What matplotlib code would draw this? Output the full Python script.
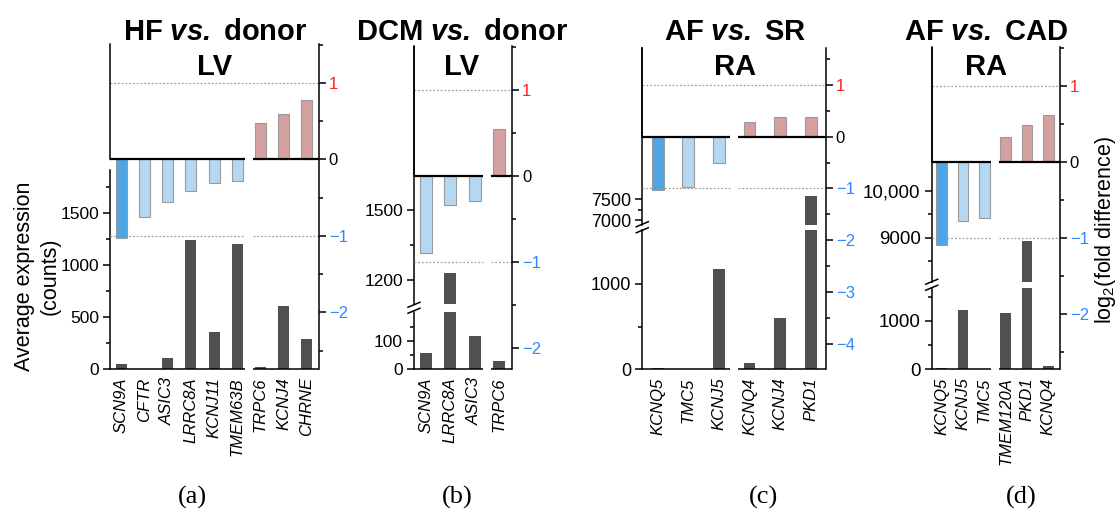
import matplotlib.pyplot as plt
from matplotlib.lines import Line2D
from matplotlib.ticker import FixedLocator, MultipleLocator

plt.rcParams['font.family'] = 'sans-serif'
plt.rcParams['font.sans-serif'] = ['Liberation Sans', 'DejaVu Sans']
plt.rcParams['mathtext.fontset'] = 'custom'
plt.rcParams['mathtext.rm'] = 'Liberation Sans'
plt.rcParams['mathtext.it'] = 'Liberation Sans:italic'
plt.rcParams['mathtext.bf'] = 'Liberation Sans:italic:bold'

# ---------------------------------------------------------------------------
# data
# ---------------------------------------------------------------------------
genes_a = ['SCN9A', 'CFTR', 'ASIC3', 'LRRC8A', 'KCNJ11', 'TMEM63B', 'TRPC6', 'KCNJ4', 'CHRNE']
fold_a = [-1.03, -0.76, -0.56, -0.41, -0.31, -0.28, 0.47, 0.59, 0.78]
counts_a = [48, 2, 106, 1240, 352, 1198, 22, 602, 285]

genes_b = ['SCN9A', 'LRRC8A', 'ASIC3', 'TRPC6']
fold_b = [-0.90, -0.34, -0.30, 0.54]
counts_b = [55, 1229, 117, 28]

genes_c = ['KCNQ5', 'TMC5', 'KCNJ5', 'KCNQ4', 'KCNJ4', 'PKD1']
fold_c = [-1.04, -0.98, -0.50, 0.28, 0.39, 0.39]
counts_c = [6, 1, 1173, 67, 604, 7580]

genes_d = ['KCNQ5', 'KCNJ5', 'TMC5', 'TMEM120A', 'PKD1', 'KCNQ4']
fold_d = [-1.09, -0.78, -0.74, 0.32, 0.48, 0.62]
counts_d = [20, 1221, 3, 1159, 8914, 54]

titles = [r'HF $\mathbf{vs.}$ donor', r'DCM $\mathbf{vs.}$ donor',
          r'AF $\mathbf{vs.}$ SR', r'AF $\mathbf{vs.}$ CAD']
tissues = ['LV', 'LV', 'RA', 'RA']
sublabels = ['(a)', '(b)', '(c)', '(d)']

fold_ticks_a = [-2, -1, 0, 1]
fold_ticks_b = [-2, -1, 0, 1]
fold_ticks_c = [-4, -3, -2, -1, 0, 1]
fold_ticks_d = [-2, -1, 0, 1]

# count axis ticks (major, minor) per segment, bottom segment first
count_ticks_a = [([0, 500, 1000, 1500], [250, 750, 1250, 1750])]
count_ticks_b = [([0, 100], [50, 150]), ([1200, 1500], [1350])]
count_ticks_c = [([0, 1000], [500]), ([7000, 7500], [7250])]
count_ticks_d = [([0, 1000], [500, 1500]), ([9000, 10000], [8500, 9500])]

# ---------------------------------------------------------------------------
# layout (pixels, y measured from the top)
# ---------------------------------------------------------------------------
W, H = 1120, 523
DARK = '#505050'
BLUE_D = '#4fa6e6'
BLUE_L = '#b5d8f2'
RED_L = '#d4a0a0'
EDGE = '#9a9a9a'
RED_T = '#ff2020'
BLUE_T = '#2f86ff'

lay_a = dict(L=110, R=319, top=44, bot=369, c0=121.3, s=23.2, bw=11, zero=159.3, unit=76.5,
             split=6, tx=215, sx=192, fs=12.5,
             segs=[(369, 169.5, (0, 369), (1500, 213))])
lay_b = dict(L=414, R=512.3, top=46.5, bot=369, c0=426, s=24.33, bw=12, zero=175.7, unit=86,
             split=3, tx=462, sx=457, fs=12.5,
             segs=[(369, 311.5, (0, 369), (100, 340.7)),
                   (304, 46.5, (1200, 280), (1500, 210))])
lay_c = dict(L=642.3, R=826, top=48.3, bot=369, c0=657.7, s=30.6, bw=11.7, zero=136.7, unit=51.7,
             split=3, tx=735, sx=764, fs=13,
             segs=[(369, 230, (0, 369), (1000, 284)),
                   (224.5, 48.3, (7000, 220.3), (7500, 199.3))])
lay_d = dict(L=931.7, R=1060, top=47.5, bot=369, c0=941.7, s=21.32, bw=10.7, zero=161.7, unit=76,
             split=3, tx=986, sx=1021, fs=13.5,
             segs=[(369, 287.5, (0, 369), (1000, 320.7)),
                   (282, 47.5, (9000, 237.5), (10000, 191))])


def px_rect(L, R, top, bot):
    return [L / W, 1 - bot / H, (R - L) / W, (bot - top) / H]


def count_label(v):
    return f'{v:,}' if v >= 10000 else str(v)


def fold_label(v):
    return str(v).replace('-', '\u2212')


def draw_panel(fig, genes, fold, counts, count_ticks, fold_ticks, title, tissue, sub, lay):
    n = len(genes)
    x = list(range(n))
    L, R, top, bot = lay['L'], lay['R'], lay['top'], lay['bot']
    s = lay['s']
    xl = ((L - lay['c0']) / s, (R - lay['c0']) / s)
    bw = lay['bw'] / s
    g = lay['split'] - 0.5
    hw = 4 / s

    # count axes (left scale), possibly broken
    caxes = []
    for (pb, pt, (v1, p1), (v2, p2)), (major, minor) in zip(lay['segs'], count_ticks):
        ax = fig.add_axes(px_rect(L, R, pt, pb))
        ax.patch.set_visible(False)
        slope = (v2 - v1) / (p1 - p2)
        ax.set_ylim(v1 - (pb - p1) * slope, v1 + (p1 - pt) * slope)
        ax.set_xlim(xl)
        ax.bar(x, counts, width=bw, color=DARK, zorder=2)
        ax.set_yticks(major)
        ax.set_yticklabels([count_label(v) for v in major], fontsize=lay['fs'])
        ax.yaxis.set_minor_locator(FixedLocator(minor))
        ax.tick_params(axis='y', which='major', length=5, width=1.1, pad=3)
        ax.tick_params(axis='y', which='minor', length=3, width=1.1)
        for side in ['top', 'right', 'bottom']:
            ax.spines[side].set_visible(False)
        ax.spines['left'].set_linewidth(1.1)
        ax.set_xticks([])
        caxes.append(ax)

    low = caxes[0]
    low.set_xticks(x)
    low.set_xticklabels(genes, rotation=90, fontstyle='italic', fontsize=12)
    low.tick_params(axis='x', length=0, pad=6)
    tr = low.get_xaxis_transform()
    low.plot([xl[0], g - hw], [0, 0], transform=tr, color='k', lw=1.1, clip_on=False,
             solid_capstyle='butt')
    low.plot([g + hw, xl[1]], [0, 0], transform=tr, color='k', lw=1.1, clip_on=False,
             solid_capstyle='butt')

    # break marks on the left spine
    if len(caxes) > 1:
        yc = (lay['segs'][0][1] + lay['segs'][1][0]) / 2
        for off in (-3, 3):
            fig.add_artist(Line2D([(L - 6) / W, (L + 6) / W],
                                  [1 - (yc + off + 2.5) / H, 1 - (yc + off - 2.5) / H],
                                  transform=fig.transFigure, color='k', lw=1.1))

    # fold axes (right scale)
    fz, fu = lay['zero'], lay['unit']
    axf = fig.add_axes(px_rect(L, R, top, bot))
    axf.patch.set_visible(False)
    axf.set_xlim(xl)
    axf.set_ylim(-(bot - fz) / fu, (fz - top) / fu)
    colors = [BLUE_D if v <= -1 else (BLUE_L if v < 0 else RED_L) for v in fold]
    axf.bar(x, fold, width=bw, color=colors, edgecolor=EDGE, linewidth=0.8, zorder=3)
    axf.plot([xl[0], g - hw], [0, 0], color='k', lw=1.6, zorder=4, solid_capstyle='butt')
    axf.plot([g + hw, xl[1]], [0, 0], color='k', lw=1.6, zorder=4, solid_capstyle='butt')
    dot = dict(color='#a0a0a0', lw=0.9, linestyle=(0, (1.5, 1.5)), zorder=1)
    axf.plot([xl[0], xl[1]], [1, 1], **dot)
    axf.plot([xl[0], g - hw], [-1, -1], **dot)
    axf.plot([g + hw, xl[1]], [-1, -1], **dot)
    axf.yaxis.tick_right()
    axf.set_yticks(fold_ticks)
    axf.set_yticklabels([fold_label(v) for v in fold_ticks], fontsize=12)
    for lab, v in zip(axf.get_yticklabels(), fold_ticks):
        lab.set_color(RED_T if v > 0 else ('k' if v == 0 else BLUE_T))
    axf.yaxis.set_minor_locator(MultipleLocator(0.5))
    axf.tick_params(axis='y', which='major', length=5, width=1.1, pad=2)
    axf.tick_params(axis='y', which='minor', length=3, width=1.1)
    axf.set_xticks([])
    axf.spines['top'].set_visible(False)
    axf.spines['bottom'].set_visible(False)
    axf.spines['right'].set_linewidth(1.1)
    axf.spines['left'].set_linewidth(1.1)
    axf.spines['left'].set_bounds(0, (fz - top) / fu)

    # titles and panel label
    fig.text(lay['tx'] / W, 1 - 32 / H, title, ha='center', va='center',
             fontsize=21, fontweight='bold')
    fig.text(lay['tx'] / W, 1 - 67 / H, tissue, ha='center', va='center',
             fontsize=21, fontweight='bold')
    fig.text(lay['sx'] / W, 1 - 497 / H, sub, ha='center', va='center',
             fontsize=19, family='Liberation Serif')


fig = plt.figure(figsize=(W / 100, H / 100), dpi=100)

draw_panel(fig, genes_a, fold_a, counts_a, count_ticks_a, fold_ticks_a,
           titles[0], tissues[0], sublabels[0], lay_a)
draw_panel(fig, genes_b, fold_b, counts_b, count_ticks_b, fold_ticks_b,
           titles[1], tissues[1], sublabels[1], lay_b)
draw_panel(fig, genes_c, fold_c, counts_c, count_ticks_c, fold_ticks_c,
           titles[2], tissues[2], sublabels[2], lay_c)
draw_panel(fig, genes_d, fold_d, counts_d, count_ticks_d, fold_ticks_d,
           titles[3], tissues[3], sublabels[3], lay_d)

fig.text(37 / W, 1 - 276 / H, 'Average expression\n(counts)', rotation=90,
         ha='center', va='center', fontsize=15.5, linespacing=1.3, multialignment='center')
fig.text(1106 / W, 1 - 230 / H, r'log$_2$(fold difference)', rotation=90,
         ha='center', va='center', fontsize=15.5)

fig.savefig('out.png', dpi=100)
